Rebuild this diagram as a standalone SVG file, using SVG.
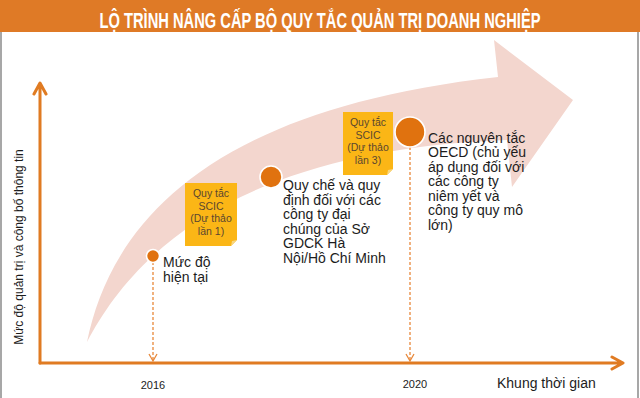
<svg xmlns="http://www.w3.org/2000/svg" width="640" height="398" viewBox="0 0 640 398">
<style>
.t{font-family:"Liberation Sans",Arial,sans-serif;fill:#1c1c1c}
.lbl{font-size:14px}
.box{fill:#FBB616}
.fold{fill:#F8D67E}
.bt{font-family:"Liberation Sans",Arial,sans-serif;font-size:10.5px;fill:#5a4630;text-anchor:middle}
.dot{fill:#E0720F;stroke:#fff;stroke-width:1.6}
.axis{stroke:#E07B22;stroke-width:3;fill:none;stroke-linecap:round;stroke-linejoin:round}
.dash{stroke:#E8883A;stroke-width:1.3;fill:none;stroke-dasharray:3 2}
.dh{stroke:#E8883A;stroke-width:1.3;fill:none}
</style>
<rect x="0" y="0" width="640" height="398" fill="#fff"/>
<path d="M1,32 V398 M638,32 V398" fill="none" stroke="#8a8a8a" stroke-width="1.5"/>
<rect x="0" y="0" width="640" height="32" fill="#DF7A26"/>
<text transform="scale(1,1.35)" x="320" y="20.6" text-anchor="middle" textLength="441" lengthAdjust="spacingAndGlyphs" font-family="'Liberation Sans',Arial,sans-serif" font-weight="bold" font-size="16" fill="#fff">LỘ TRÌNH NÂNG CẤP BỘ QUY TẮC QUẢN TRỊ DOANH NGHIỆP</text>

<g id="band">
<path d="M87,342 C110,230 200,110 498,77 L494,40 L573,100 L512,187 L507,140 C230,150 130,260 87,342 Z" fill="#F3D6CE"/>
</g>

<g id="connectors">
<path class="axis" d="M40,363 L40,84 M34,94 L40,83 L46,94"/>
<path class="axis" d="M40,363 L622,363 M612,357 L623,363 L612,369"/>
<path class="dash" d="M153,262 L153,360"/>
<path class="dh" d="M149,354 L153,361 L157,354"/>
<path class="dash" d="M410,147 L410,360"/>
<path class="dh" d="M406,354 L410,361 L414,354"/>
</g>

<g id="yaxis-label">
<text class="t" font-size="12" text-anchor="middle" transform="translate(23,247) rotate(-90)">Mức độ quản trị và công bố thông tin</text>
</g>

<g id="n-current">
<circle class="dot" cx="153" cy="256" r="6.5"/>
<text class="t lbl" x="163" y="267">Mức độ</text>
<text class="t lbl" x="163" y="282">hiện tại</text>
</g>

<g id="n-draft1">
<path class="box" d="M185,183 H237 V240 L231,246 H185 Z"/>
<path class="fold" d="M237,240 L231,246 L232,241 Z"/>
<text class="bt" x="211" y="197">Quy tắc</text>
<text class="bt" x="211" y="209.5">SCIC</text>
<text class="bt" x="211" y="222">(Dự thảo</text>
<text class="bt" x="211" y="234.5">lần 1)</text>
</g>

<g id="n-hnx">
<circle class="dot" cx="271" cy="177" r="11"/>
<text class="t lbl" x="283" y="190">Quy chế và quy</text>
<text class="t lbl" x="283" y="204.5">định đối với các</text>
<text class="t lbl" x="283" y="219">công ty đại</text>
<text class="t lbl" x="283" y="233.5">chúng của Sở</text>
<text class="t lbl" x="283" y="248">GDCK Hà</text>
<text class="t lbl" x="283" y="262.5">Nội/Hồ Chí Minh</text>
</g>

<g id="n-draft3">
<path class="box" d="M343,112 H393 V169 L387,175 H343 Z"/>
<path class="fold" d="M393,169 L387,175 L388,170 Z"/>
<text class="bt" x="368" y="126">Quy tắc</text>
<text class="bt" x="368" y="138.5">SCIC</text>
<text class="bt" x="368" y="151">(Dự thảo</text>
<text class="bt" x="368" y="163.5">lần 3)</text>
</g>

<g id="n-oecd">
<circle class="dot" cx="410" cy="132" r="15"/>
<text class="t lbl" x="428" y="142.5">Các nguyên tắc</text>
<text class="t lbl" x="428" y="157">OECD (chủ yếu</text>
<text class="t lbl" x="428" y="171.5">áp dụng đối với</text>
<text class="t lbl" x="428" y="186">các công ty</text>
<text class="t lbl" x="428" y="200.5">niêm yết và</text>
<text class="t lbl" x="428" y="215">công ty quy mô</text>
<text class="t lbl" x="428" y="229.5">lớn)</text>
</g>

<g id="xaxis-labels">
<text class="t" font-size="11" text-anchor="middle" x="153" y="389">2016</text>
<text class="t" font-size="11" text-anchor="middle" x="415" y="388">2020</text>
<text class="t" font-size="14" x="497" y="388">Khung thời gian</text>
</g>
</svg>
